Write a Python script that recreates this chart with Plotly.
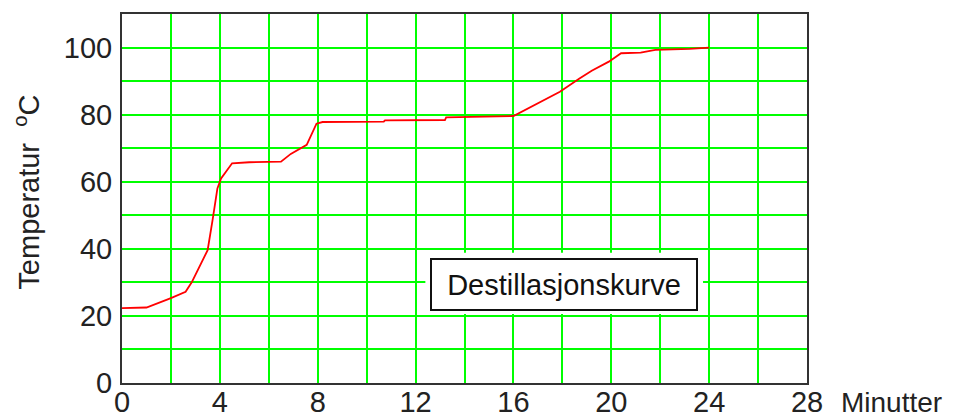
import plotly.graph_objects as go

# Data
minutes = [0, 1.0, 2.0, 2.6, 2.85, 3.5, 3.7, 3.9, 4.05, 4.5, 5.2, 6.5, 6.9, 7.55, 7.95,
           8.2, 10.7, 10.75, 13.2, 13.25, 16.0, 17.9, 18.7, 19.2, 19.9, 20.4, 21.2, 21.8, 23.2, 24.0]
temperature = [22.3, 22.5, 25.3, 27.2, 30.0, 39.6, 48.5, 58, 61, 65.5, 65.8, 66, 68.3, 71, 77.3,
               77.8, 77.9, 78.3, 78.4, 79.2, 79.6, 86.8, 90.8, 93.1, 95.8, 98.3, 98.5, 99.3, 99.6, 100]

x_tickvals = list(range(0, 29, 2))
x_ticktext = [str(v) if v % 4 == 0 else "" for v in x_tickvals]
y_tickvals = list(range(0, 111, 10))
y_ticktext = [str(v) if v % 20 == 0 and v <= 100 else "" for v in y_tickvals]

FONT = "Liberation Sans, Arial, sans-serif"
GREEN = "#00FF00"
AX = "#333333"

fig = go.Figure()
fig.add_trace(go.Scatter(x=minutes, y=temperature, mode="lines",
                         line=dict(color="#FF0000", width=1.8), hoverinfo="skip"))

# page body has an 8px margin, so the figure is offset by 8px
fig.update_layout(
    width=945, height=411,
    margin=dict(l=114, r=146, t=6, b=36, autoexpand=False),
    paper_bgcolor="white", plot_bgcolor="white",
    showlegend=False,
    font=dict(family=FONT, size=29, color="#222222"),
    xaxis=dict(range=[0, 28], tickvals=x_tickvals, ticktext=x_ticktext,
               showgrid=True, gridcolor=GREEN, gridwidth=2, zeroline=False,
               showline=True, mirror=True, linecolor=AX, linewidth=2,
               ticks="", automargin=False, ticklabelstandoff=-8,
               tickfont=dict(size=29, family=FONT, color="#222222")),
    yaxis=dict(range=[0, 110], tickvals=y_tickvals, ticktext=y_ticktext,
               showgrid=True, gridcolor=GREEN, gridwidth=2, zeroline=False,
               showline=True, mirror=True, linecolor=AX, linewidth=2,
               ticks="", ticklabelstandoff=2, automargin=False,
               tickfont=dict(size=29, family=FONT, color="#222222")),
)

# white margin behind the caption box
fig.add_shape(type="rect", xref="x", yref="y", x0=12.4, x1=23.75, y0=20.6, y1=38.8,
              fillcolor="white", line=dict(width=0), layer="above")

fig.add_annotation(text="Destillasjonskurve", xref="x", yref="y", x=18.07, y=29.5,
                   showarrow=False, font=dict(size=29, family=FONT, color="#111111"),
                   bgcolor="white", bordercolor="#111111", borderwidth=2, borderpad=1,
                   width=262, height=47)

fig.add_annotation(text="Temperatur  <sup>o</sup>C", xref="paper", yref="paper",
                   x=-0.139, y=0.518, xanchor="center", yanchor="middle",
                   textangle=-90, showarrow=False,
                   font=dict(size=29, family=FONT, color="#222222"))

fig.add_annotation(text="Minutter", xref="paper", yref="paper",
                   x=1.047, y=-0.0515, xanchor="left", yanchor="middle",
                   showarrow=False, font=dict(size=28, family=FONT, color="#222222"))

fig.write_html("out.html")
